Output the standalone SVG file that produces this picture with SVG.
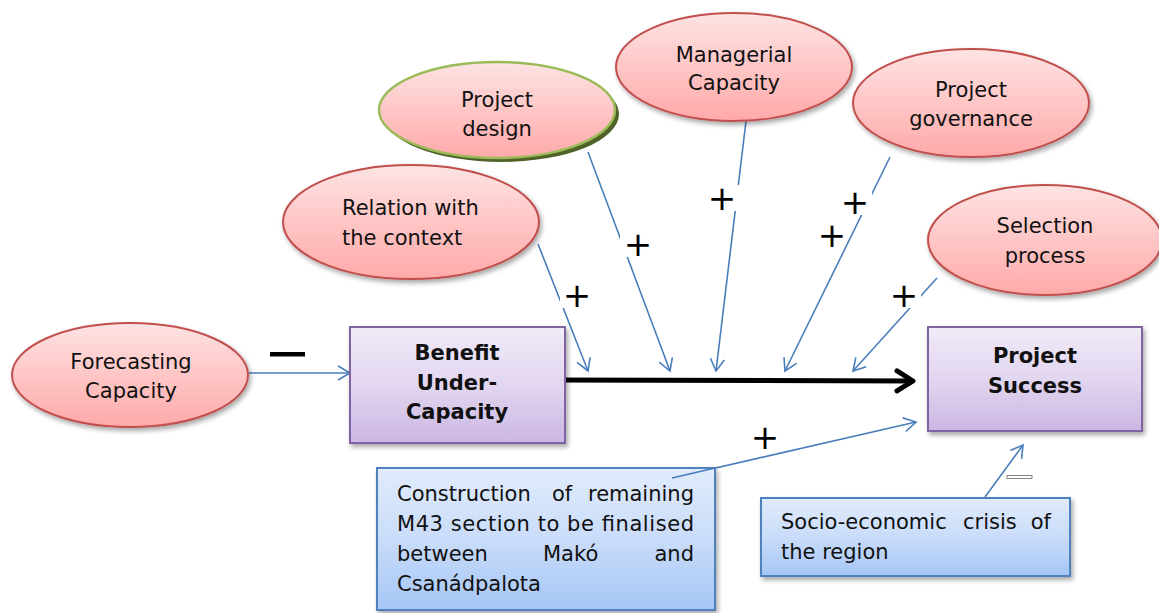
<svg xmlns="http://www.w3.org/2000/svg" width="1159" height="613" viewBox="0 0 1159 613">
<style>
.t{font-family:"DejaVu Sans",Verdana,sans-serif;font-size:21px;fill:#111}
.b{font-weight:bold}
.c{text-anchor:middle}
.el{stroke:#c0504d;stroke-width:2;fill:url(#gPink);filter:url(#sh)}
.pbox{stroke:#8064a2;stroke-width:2;fill:url(#gPurp);filter:url(#sh)}
.bbox{stroke:#4f81bd;stroke-width:2;fill:url(#gBlue);filter:url(#sh)}
.ln{stroke:#4a7ebb;stroke-width:1.6;fill:none;marker-end:url(#ah)}
.plus{font-family:"DejaVu Sans",sans-serif;font-size:34px;fill:#000;text-anchor:middle}
.pb{fill:#fff}
</style>
<defs>
<linearGradient id="gPink" x1="0" y1="0" x2="0" y2="1">
<stop offset="0" stop-color="#fde3e3"/><stop offset="0.5" stop-color="#ffc6c6"/><stop offset="1" stop-color="#ffa9a9"/>
</linearGradient>
<linearGradient id="gPurp" x1="0" y1="0" x2="0" y2="1">
<stop offset="0" stop-color="#f1ebf8"/><stop offset="0.5" stop-color="#e2d6f0"/><stop offset="1" stop-color="#cbb7e3"/>
</linearGradient>
<linearGradient id="gBlue" x1="0" y1="0" x2="0" y2="1">
<stop offset="0" stop-color="#e1ecfc"/><stop offset="0.5" stop-color="#c9dcf9"/><stop offset="1" stop-color="#a6c6f6"/>
</linearGradient>
<filter id="sh" x="-10%" y="-10%" width="125%" height="130%">
<feGaussianBlur in="SourceAlpha" stdDeviation="2.5"/>
<feOffset dx="2" dy="3" result="o"/>
<feComponentTransfer><feFuncA type="linear" slope="0.35"/></feComponentTransfer>
<feMerge><feMergeNode/><feMergeNode in="SourceGraphic"/></feMerge>
</filter>
<marker id="ah" markerUnits="userSpaceOnUse" markerWidth="20" markerHeight="20" refX="13" refY="7" orient="auto" overflow="visible">
<path d="M1,0 L13,7 L1,14" fill="none" stroke="#4a7ebb" stroke-width="1.6"/>
</marker>
<marker id="ahk" markerUnits="userSpaceOnUse" markerWidth="30" markerHeight="30" refX="18" refY="11" orient="auto" overflow="visible">
<path d="M2,1 L18,11 L2,21" fill="none" stroke="#000" stroke-width="5" stroke-linecap="round" stroke-linejoin="round"/>
</marker>
</defs>

<g id="connectors">
<line class="ln" x1="249" y1="373" x2="350" y2="373"/>
<line x1="552" y1="380" x2="913" y2="381" stroke="#000" stroke-width="5" marker-end="url(#ahk)"/>
<line class="ln" x1="538" y1="244" x2="588" y2="371"/>
<line class="ln" x1="588" y1="152" x2="670" y2="371"/>
<line class="ln" x1="746" y1="121" x2="716" y2="371"/>
<line class="ln" x1="890" y1="157" x2="785" y2="371"/>
<line class="ln" x1="937" y1="278" x2="853" y2="371"/>
<line class="ln" x1="672" y1="478" x2="916" y2="422"/>
<line class="ln" x1="985" y1="497" x2="1023" y2="445"/>
<g id="signs">
<rect class="pb" x="560" y="282" width="34" height="26"/>
<text class="plus" x="577" y="307">+</text>
<rect class="pb" x="620" y="231" width="36" height="26"/>
<text class="plus" x="638" y="256">+</text>
<rect class="pb" x="705" y="185" width="34" height="26"/>
<text class="plus" x="722" y="210">+</text>
<rect class="pb" x="838" y="189" width="34" height="26"/>
<text class="plus" x="855" y="214">+</text>
<text class="plus" x="832" y="247">+</text>
<rect class="pb" x="887" y="282" width="34" height="26"/>
<text class="plus" x="904" y="307">+</text>
<text class="plus" x="765" y="449">+</text>
<rect x="270" y="352" width="35" height="4.5" fill="#000"/>
<rect x="1007" y="475.5" width="25" height="3" fill="#fff" stroke="#666" stroke-width="0.8"/>
</g>
</g>

<g id="forecasting">
<ellipse class="el" cx="130" cy="375" rx="118" ry="52"/>
<text class="t c" x="131" y="369">Forecasting</text>
<text class="t c" x="131" y="398">Capacity</text>
</g>

<g id="relation">
<ellipse class="el" cx="411" cy="222" rx="128" ry="57"/>
<text class="t" x="342" y="215">Relation with</text>
<text class="t" x="342" y="245">the context</text>
</g>

<g id="design">
<ellipse cx="501" cy="114" rx="118" ry="48" fill="#4f6228"/>
<ellipse cx="497" cy="110" rx="118" ry="48" fill="url(#gPink)" stroke="#9bbb59" stroke-width="2.5"/>
<text class="t c" x="497" y="107">Project</text>
<text class="t c" x="497" y="136">design</text>
</g>

<g id="managerial">
<ellipse class="el" cx="734" cy="67" rx="118" ry="54"/>
<text class="t c" x="734" y="62">Managerial</text>
<text class="t c" x="734" y="90">Capacity</text>
</g>

<g id="governance">
<ellipse class="el" cx="971" cy="103" rx="118" ry="54"/>
<text class="t c" x="971" y="97">Project</text>
<text class="t c" x="971" y="126">governance</text>
</g>

<g id="selection">
<ellipse class="el" cx="1045" cy="240" rx="117" ry="55"/>
<text class="t c" x="1045" y="233">Selection</text>
<text class="t c" x="1045" y="263">process</text>
</g>

<g id="benefit">
<rect class="pbox" x="350" y="327" width="215" height="116"/>
<text class="t b c" x="457" y="360">Benefit</text>
<text class="t b c" x="457" y="390">Under-</text>
<text class="t b c" x="457" y="419">Capacity</text>
</g>

<g id="success">
<rect class="pbox" x="928" y="327" width="214" height="104"/>
<text class="t b c" x="1035" y="363">Project</text>
<text class="t b c" x="1035" y="393">Success</text>
</g>

<g id="construction">
<rect class="bbox" x="377" y="468" width="338" height="142"/>
<line x1="672" y1="478" x2="715" y2="468" stroke="#4a7ebb" stroke-width="1.6"/>
<text class="t" x="397" y="501">Construction</text>
<text class="t" x="552" y="501">of</text>
<text class="t" x="694" y="501" text-anchor="end">remaining</text>
<text class="t" x="397" y="531" textLength="297" lengthAdjust="spacing">M43 section to be finalised</text>
<text class="t" x="397" y="561">between</text>
<text class="t" x="543" y="561">Makó</text>
<text class="t" x="694" y="561" text-anchor="end">and</text>
<text class="t" x="397" y="591">Csanádpalota</text>
</g>

<g id="socio">
<rect class="bbox" x="761" y="498" width="309" height="78"/>
<text class="t" x="781" y="529">Socio-economic</text>
<text class="t" x="963" y="529">crisis</text>
<text class="t" x="1051" y="529" text-anchor="end">of</text>
<text class="t" x="781" y="559">the region</text>
</g>
</svg>
